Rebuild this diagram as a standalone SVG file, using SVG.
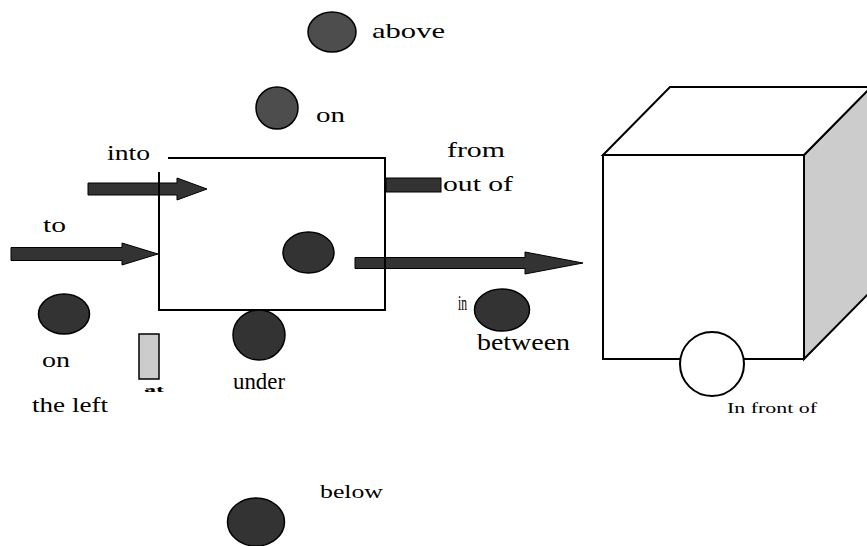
<svg xmlns="http://www.w3.org/2000/svg" width="867" height="546" viewBox="0 0 867 546">
<style>
  text { font-family: "Liberation Serif", "Times New Roman", serif; fill: #000; }
  .ball { fill: #333333; stroke: #000; stroke-width: 1.5; }
  .ball2 { fill: #4d4d4d; stroke: #000; stroke-width: 1.5; }
  .arrow { fill: #333333; stroke: #000; stroke-width: 1; }
  .edge { fill: none; stroke: #000; stroke-width: 2; }
</style>
<rect width="867" height="546" fill="#fff"/>

<g id="connectors">
  <path class="arrow" d="M88,183 H177 V178 L207,189 L177,200 V195 H88 Z"/>
  <path class="arrow" d="M11,247.5 H122 V243 L158,254 L122,265 V260.5 H11 Z"/>
  <path class="arrow" d="M355,257.5 H525 V252 L583,263 L525,274 V268.5 H355 Z"/>
  <rect class="arrow" x="386" y="178" width="55" height="14" stroke="none"/>
</g>

<g id="box">
  <path class="edge" d="M168,158 H385 V310 H159 V172"/>
  <ellipse class="ball" cx="308.5" cy="252.5" rx="25.5" ry="20.5"/>
</g>

<g id="above">
  <ellipse class="ball2" cx="332" cy="32" rx="24" ry="20"/>
  <text x="372" y="38" font-size="22" textLength="73" lengthAdjust="spacingAndGlyphs">above</text>
</g>

<g id="on-top">
  <ellipse class="ball2" cx="277" cy="108" rx="21" ry="21"/>
  <text x="316" y="122" font-size="22" textLength="29" lengthAdjust="spacingAndGlyphs">on</text>
</g>

<g id="into">
  <text x="107" y="160" font-size="22" textLength="43" lengthAdjust="spacingAndGlyphs">into</text>
</g>

<g id="to">
  <text x="43" y="232" font-size="22" textLength="23" lengthAdjust="spacingAndGlyphs">to</text>
</g>

<g id="from-out-of">
  <text x="447" y="157" font-size="22" textLength="58" lengthAdjust="spacingAndGlyphs">from</text>
  <text x="443" y="191" font-size="22" textLength="70" lengthAdjust="spacingAndGlyphs">out of</text>
</g>

<g id="on-left">
  <ellipse class="ball" cx="64" cy="314" rx="25.5" ry="20"/>
  <text x="42" y="367" font-size="22" textLength="28" lengthAdjust="spacingAndGlyphs">on</text>
  <text x="32" y="412" font-size="22" textLength="76" lengthAdjust="spacingAndGlyphs">the left</text>
</g>

<g id="at">
  <rect x="139" y="334" width="20" height="45" fill="#cccccc" stroke="#000" stroke-width="1.5"/>
  <text x="144" y="392" font-size="9" font-weight="bold" textLength="20" lengthAdjust="spacingAndGlyphs">at</text>
</g>

<g id="under">
  <ellipse class="ball" cx="259" cy="335" rx="26" ry="25"/>
  <text x="233" y="389" font-size="24" textLength="52" lengthAdjust="spacingAndGlyphs">under</text>
</g>

<g id="between">
  <text x="458" y="310" font-size="20" textLength="9" lengthAdjust="spacingAndGlyphs">in</text>
  <ellipse class="ball" cx="502" cy="310" rx="27.5" ry="21"/>
  <text x="477" y="350" font-size="24" textLength="93" lengthAdjust="spacingAndGlyphs">between</text>
</g>

<g id="cube">
  <polygon points="804,155 871,87 871,291 804,359" fill="#cccccc" stroke="#000" stroke-width="2"/>
  <polygon points="603,155 670,87 871,87 804,155" fill="#fff" stroke="#000" stroke-width="2"/>
  <rect x="603" y="155" width="201" height="204" fill="#fff" stroke="#000" stroke-width="2"/>
</g>

<g id="in-front-of">
  <circle cx="712" cy="364" r="32" fill="#fff" stroke="#000" stroke-width="2"/>
  <text x="727" y="413" font-size="15" textLength="90" lengthAdjust="spacingAndGlyphs">In front of</text>
</g>

<g id="below">
  <ellipse class="ball" cx="256" cy="522" rx="28.5" ry="24"/>
  <text x="320" y="498" font-size="18" textLength="63" lengthAdjust="spacingAndGlyphs">below</text>
</g>
</svg>
